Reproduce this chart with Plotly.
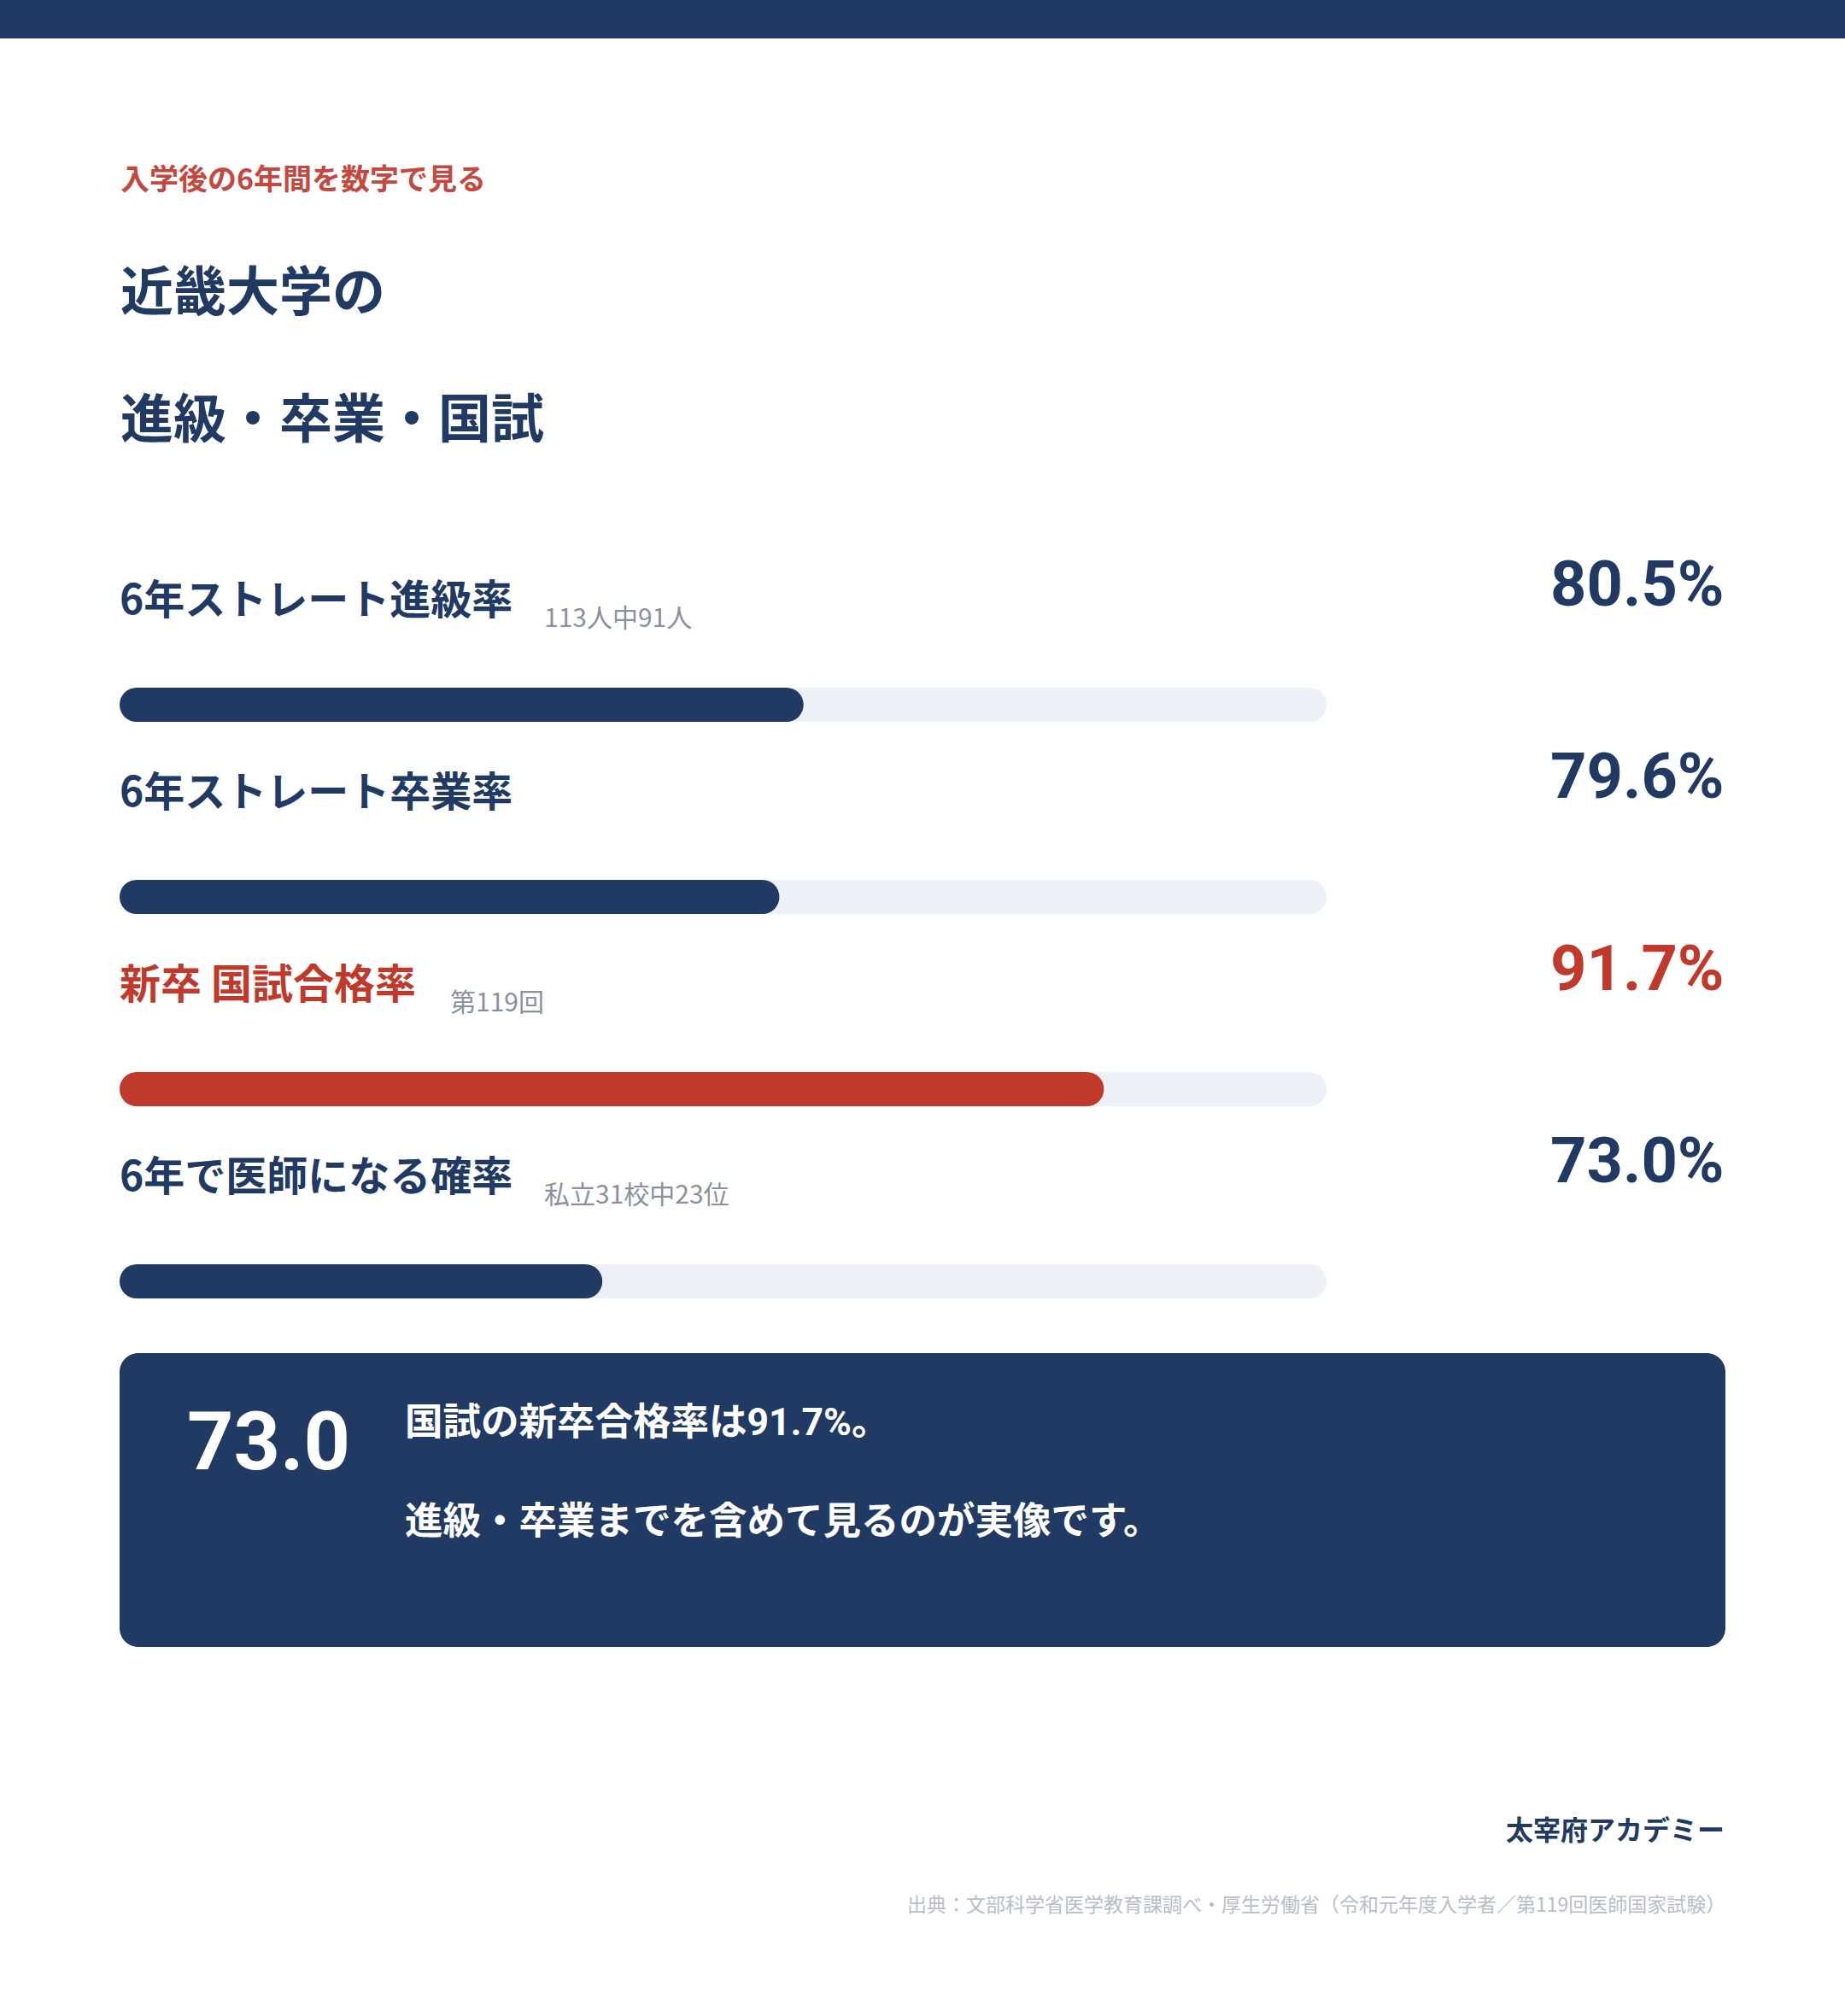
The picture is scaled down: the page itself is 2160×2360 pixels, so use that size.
import plotly.graph_objects as go

# ---------------- data ----------------
categories = ["6年ストレート進級率", "6年ストレート卒業率", "新卒 国試合格率", "6年で医師になる確率"]
values = [80.5, 79.6, 91.7, 73.0]
notes = ["113人中91人", "", "第119回", "私立31校中23位"]
highlight = [False, False, True, False]
axis_min = 55
axis_max = 100

kicker = "入学後の6年間を数字で見る"
title_lines = ["近畿大学の", "進級・卒業・国試"]
box_lines = ["国試の新卒合格率は{:.1f}%。".format(values[2]), "進級・卒業までを含めて見るのが実像です。"]
brand = "太宰府アカデミー"
source = "出典：文部科学省医学教育課調べ・厚生労働省（令和元年度入学者／第119回医師国家試験）"

# ---------------- style ----------------
W, H = 2160, 2360
NAVY = "#213a63"
RED = "#c0392b"
KICKER_RED = "#c5483f"
TRACK = "#edf0f7"
GRAY = "#8a909c"
LIGHTGRAY = "#b8bdc7"
FONT = "Noto Sans CJK JP"
MIXFONT = "Roboto, Noto Sans CJK JP"
NUMFONT = "Roboto"

LEFT, RIGHT = 140, 2020
BAR_LEFT, BAR_RIGHT = 140, 1553
ROW_TOP, ROW_STEP = 825, 225
BAR_H = 40


def px(x):
    return x / W


def py(y):
    return 1 - y / H


def em_width(s):
    w = 0.0
    for ch in s:
        if ch == " ":
            w += 0.25
        elif ord(ch) < 128:
            w += 0.55
        else:
            w += 1.0
    return w


n = len(categories)
dom_top = ROW_TOP - ROW_STEP / 2
dom_bot = dom_top + ROW_STEP * n
bar_frac = BAR_H / ROW_STEP

fig = go.Figure()

# track
fig.add_trace(go.Bar(
    y=categories, x=[axis_max - axis_min] * n, base=[axis_min] * n, orientation="h",
    width=bar_frac, marker=dict(color=TRACK, cornerradius=BAR_H / 2, line=dict(width=0)),
    hoverinfo="skip", showlegend=False,
))

# fill
fill_colors = [RED if h else NAVY for h in highlight]
fig.add_trace(go.Bar(
    y=categories, x=[v - axis_min for v in values], base=[axis_min] * n, orientation="h",
    width=bar_frac, marker=dict(color=fill_colors, cornerradius=BAR_H / 2, line=dict(width=0)),
    hoverinfo="skip", showlegend=False,
))

ann = []
for i, (cat, v, note, hl) in enumerate(zip(categories, values, notes, highlight)):
    col = RED if hl else NAVY
    ann.append(dict(xref="paper", yref="y", x=px(LEFT - 2), y=cat, xanchor="left", yanchor="middle",
                    yshift=127, text=cat, showarrow=False,
                    font=dict(family=FONT, size=48, color=col, weight=700)))
    if note:
        nx = LEFT + em_width(cat) * 48 + 37
        ann.append(dict(xref="paper", yref="y", x=px(nx), y=cat, xanchor="left", yanchor="middle",
                        yshift=104, text=note, showarrow=False,
                        font=dict(family=FONT, size=30, color=GRAY, weight=400)))
    ann.append(dict(xref="paper", yref="y", x=px(2021), y=cat, xanchor="right", yanchor="middle",
                    yshift=141, text="{:.1f}%".format(v), showarrow=False,
                    font=dict(family=NUMFONT, size=74, color=col, weight=700)))

# header texts
ann.append(dict(xref="paper", yref="paper", x=px(LEFT - 1), y=py(207), xanchor="left", yanchor="middle",
                text=kicker, showarrow=False, font=dict(family=FONT, size=34, color=KICKER_RED, weight=700)))
for t, yy in zip(title_lines, (337, 486)):
    ann.append(dict(xref="paper", yref="paper", x=px(LEFT - 1), y=py(yy), xanchor="left", yanchor="middle",
                    text=t, showarrow=False, font=dict(family=FONT, size=62, color=NAVY, weight=700)))

# box texts
ann.append(dict(xref="paper", yref="paper", x=px(217), y=py(1687), xanchor="left", yanchor="middle",
                text="{:.1f}".format(values[3]), showarrow=False,
                font=dict(family=NUMFONT, size=95, color="white", weight=700)))
for t, yy in zip(box_lines, (1665, 1781)):
    ann.append(dict(xref="paper", yref="paper", x=px(472), y=py(yy), xanchor="left", yanchor="middle",
                    text=t, showarrow=False, font=dict(family=MIXFONT, size=44.5, color="white", weight=700)))

# footer
ann.append(dict(xref="paper", yref="paper", x=px(2021), y=py(2140), xanchor="right", yanchor="middle",
                text=brand, showarrow=False, font=dict(family=FONT, size=32, color=NAVY, weight=700)))
ann.append(dict(xref="paper", yref="paper", x=px(2022), y=py(2228), xanchor="right", yanchor="middle",
                text=source, showarrow=False, font=dict(family=FONT, size=23, color=LIGHTGRAY, weight=400)))


def rounded_rect(x0, y0, x1, y1, r):
    k = 0.5523 * r
    pts = [
        f"M {px(x0 + r)} {py(y0)}",
        f"L {px(x1 - r)} {py(y0)}",
        f"C {px(x1 - r + k)} {py(y0)} {px(x1)} {py(y0 + r - k)} {px(x1)} {py(y0 + r)}",
        f"L {px(x1)} {py(y1 - r)}",
        f"C {px(x1)} {py(y1 - r + k)} {px(x1 - r + k)} {py(y1)} {px(x1 - r)} {py(y1)}",
        f"L {px(x0 + r)} {py(y1)}",
        f"C {px(x0 + r - k)} {py(y1)} {px(x0)} {py(y1 - r + k)} {px(x0)} {py(y1 - r)}",
        f"L {px(x0)} {py(y0 + r)}",
        f"C {px(x0)} {py(y0 + r - k)} {px(x0 + r - k)} {py(y0)} {px(x0 + r)} {py(y0)}",
        "Z",
    ]
    return " ".join(pts)


shapes = [
    dict(type="rect", xref="paper", yref="paper", x0=0, x1=1, y0=py(45), y1=1,
         fillcolor=NAVY, line=dict(width=0), layer="below"),
    dict(type="path", xref="paper", yref="paper", path=rounded_rect(LEFT, 1584, RIGHT, 1928, 22),
         fillcolor=NAVY, line=dict(width=0), layer="below"),
]

fig.update_layout(
    width=W, height=H, margin=dict(l=0, r=0, t=0, b=0),
    paper_bgcolor="white", plot_bgcolor="rgba(0,0,0,0)",
    barmode="overlay", showlegend=False, hovermode=False,
    xaxis=dict(domain=[px(BAR_LEFT), px(BAR_RIGHT)], range=[axis_min, axis_max], visible=False, fixedrange=True),
    yaxis=dict(domain=[py(dom_bot), py(dom_top)], type="category", categoryorder="array",
               categoryarray=categories, range=[n - 0.5, -0.5], visible=False, fixedrange=True),
    annotations=ann, shapes=shapes,
    font=dict(family=FONT),
)

fig.write_html("out.html", config={"displayModeBar": False},
               post_script="document.body.style.margin='0';document.body.style.overflow='hidden';")
